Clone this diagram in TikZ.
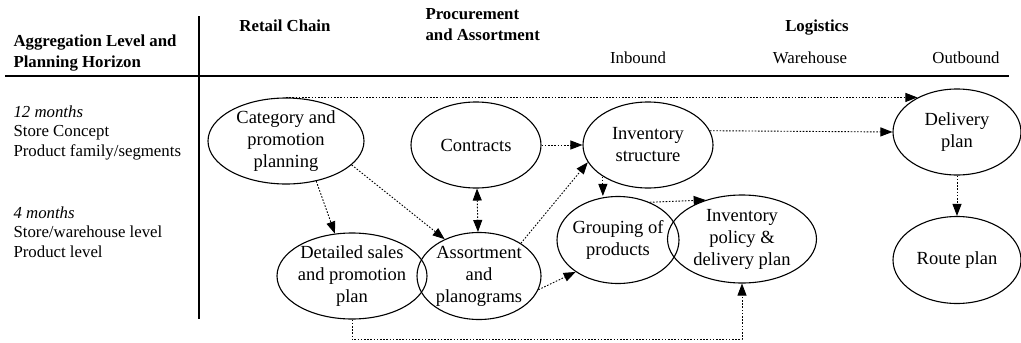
\documentclass[tikz,border=0pt]{standalone}
\usepackage{fontspec}
\setmainfont{Liberation Serif}
\usetikzlibrary{shapes.geometric,arrows.meta}
\begin{document}
\begin{tikzpicture}[x=1pt,y=-1pt, every node/.style={font=\fontsize{16.8}{19.5}\selectfont},
  >={Triangle[length=12pt,width=9pt]},
  plan/.style={draw,ellipse,line width=1.1pt,inner sep=-10pt,align=center,font=\fontsize{18.5}{22}\selectfont},
  flow/.style={->,line width=0.9pt,dash pattern=on 1.6pt off 1.6pt},
  head/.style={font=\fontsize{16.8}{20.5}\selectfont\bfseries,align=left},
  lvl/.style={anchor=base west,align=left}]
\useasboundingbox (0,0) rectangle (1021,343);
% table frame
\draw[line width=1.1pt] (5,76) -- (1009,76);
\draw[line width=1.1pt] (199,16) -- (199,319);
% headings (base = last line)
\node[head,anchor=base west] (hlevel) at (10,67) {Aggregation Level and\\Planning Horizon};
\node[head,anchor=base] (hretail) at (285,31) {Retail Chain};
\node[head,anchor=base west] (hproc) at (422,40) {Procurement\\and Assortment};
\node[head,anchor=base] (hlog) at (817,31) {Logistics};
\node[anchor=base] (hin) at (638,63) {Inbound};
\node[anchor=base] (hware) at (810,63) {Warehouse};
\node[anchor=base] (hout) at (966,63) {Outbound};
\node[lvl] (l12) at (10,156) {\textit{12 months}\\Store Concept\\Product family/segments};
\node[lvl] (l4) at (10,257) {\textit{4 months}\\Store/warehouse level\\Product level};
% planning tasks
\node[plan,minimum width=156,minimum height=86] (cat) at (286,141) {Category and\\promotion\\planning};
\node[plan,minimum width=130,minimum height=86] (con) at (476,145) {Contracts};
\node[plan,minimum width=130,minimum height=86] (inv) at (648,145) {Inventory\\structure};
\node[plan,minimum width=128,minimum height=86] (del) at (957,132) {Delivery\\plan};
\node[plan,minimum width=150,minimum height=86] (dsp) at (352,276) {Detailed sales\\and promotion\\plan};
\node[plan,minimum width=124,minimum height=87] (ass) at (479,276) {Assortment\\and\\planograms};
\node[plan,minimum width=122,minimum height=87] (grp) at (618,240) {Grouping of\\products};
\node[plan,minimum width=149,minimum height=88] (pol) at (742,239) {Inventory\\policy \&\\delivery plan};
\node[plan,minimum width=128,minimum height=87] (rte) at (957,260) {Route plan};
% flows
\draw[flow] (cat.north) -- (cat.north -| del.139);
\draw[flow] (cat.-53) -- (dsp.112);
\draw[flow] (cat.-20) -- (ass.133);
\draw[flow,<->] (con) -- (ass);
\draw[flow] (con) -- (inv);
\draw[flow] (ass.38) -- (inv.196);
\draw[flow] (ass.-13) -- (grp.217);
\draw[flow] (inv.215) -- (inv.215 |- grp.north);
\draw[flow] (grp.50) -- (pol.133);
\draw[flow] (inv.13) -- (del.west);
\draw[flow] (del) -- (rte);
\draw[flow] (dsp.south) -- ++(0,20) -| (pol.south);
\end{tikzpicture}
\end{document}
